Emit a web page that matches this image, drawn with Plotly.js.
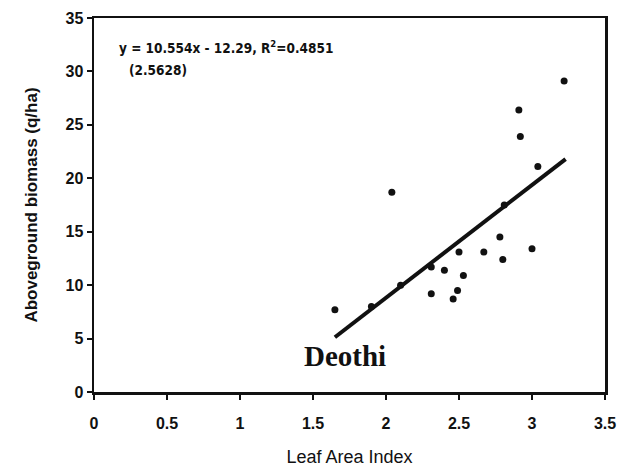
<!DOCTYPE html>
<html>
<head>
<meta charset="utf-8">
<script src="https://cdn.plot.ly/plotly-3.0.1.min.js"></script>
<style>html,body{margin:0;padding:0;background:#fff;}#chart{width:625px;height:468px;}</style>
</head>
<body>
<div id="chart"></div>
<script>
// Observed data: Leaf Area Index vs aboveground biomass (q/ha)
const lai = [3.22, 2.91, 2.92, 3.04, 2.04, 2.81, 2.78, 2.50, 2.67, 3.00,
             2.80, 2.31, 2.40, 2.53, 2.31, 2.49, 2.46, 1.65, 1.90, 2.10];
const biomass = [29.1, 26.4, 23.9, 21.1, 18.7, 17.5, 14.5, 13.1, 13.1, 13.4,
                 12.4, 11.7, 11.4, 10.9, 9.2, 9.5, 8.7, 7.7, 8.0, 10.0];
// Regression line y = 10.554x - 12.29
const slope = 10.554;
const intercept = -12.29;
const fitX = [1.65, 3.23];
const fitY = fitX.map(x => slope * x + intercept);
const xTicks = [0, 0.5, 1, 1.5, 2, 2.5, 3, 3.5];
const xTickText = ['0', '0.5', '1', '1.5', '2', '2.5', '3', '3.5'];
const yTicks = [0, 5, 10, 15, 20, 25, 30, 35];

const traces = [
  {x: lai, y: biomass, mode: 'markers', type: 'scatter',
   marker: {color: '#111', size: 7}, hoverinfo: 'none'},
  {x: fitX, y: fitY, mode: 'lines', type: 'scatter',
   line: {color: '#111', width: 4}, hoverinfo: 'none'}
];

const layout = {
  width: 625, height: 468,
  margin: {l: 94, r: 20, t: 18, b: 76},
  paper_bgcolor: '#fff', plot_bgcolor: '#fff',
  showlegend: false,
  font: {family: 'Liberation Sans, Arial, sans-serif', color: '#111'},
  xaxis: {
    range: [0, 3.5], tickvals: xTicks, ticktext: xTickText,
    showgrid: false, zeroline: false,
    showline: true, linecolor: '#111', linewidth: 2.5, mirror: true,
    ticks: 'outside', ticklen: 5, tickwidth: 2, tickcolor: '#111',
    ticklabelstandoff: 10,
    tickfont: {size: 16, weight: 'bold', color: '#111'},
    title: {text: 'Leaf Area Index', font: {size: 18, color: '#111'}, standoff: 20}
  },
  yaxis: {
    range: [0, 35], tickvals: yTicks,
    showgrid: false, zeroline: false,
    showline: true, linecolor: '#111', linewidth: 2.5, mirror: true,
    ticks: 'outside', ticklen: 5, tickwidth: 2, tickcolor: '#111',
    tickfont: {size: 16, weight: 'bold', color: '#111'},
    title: {text: 'Aboveground biomass (q/ha)', font: {size: 17, weight: 'bold', color: '#111'}, standoff: 24}
  },
  annotations: [
    {xref: 'paper', yref: 'paper', x: 0.045, y: 0.922, xanchor: 'left', yanchor: 'middle',
     text: 'y = 10.554x - 12.29, R<sup>2</sup>=0.4851', showarrow: false,
     font: {family: 'DejaVu Sans Condensed, DejaVu Sans, sans-serif', size: 13.5, weight: 'bold', color: '#111'}},
    {xref: 'paper', yref: 'paper', x: 0.065, y: 0.861, xanchor: 'left', yanchor: 'middle',
     text: '(2.5628)', showarrow: false,
     font: {family: 'DejaVu Sans Condensed, DejaVu Sans, sans-serif', size: 13.5, weight: 'bold', color: '#111'}},
    {xref: 'paper', yref: 'paper', x: 0.408, y: 0.095, xanchor: 'left', yanchor: 'middle',
     text: 'Deothi', showarrow: false,
     font: {family: 'Liberation Serif, Times New Roman, serif', size: 29, weight: 'bold', color: '#111'}}
  ]
};

Plotly.newPlot('chart', traces, layout, {displayModeBar: false, staticPlot: true});
</script>
</body>
</html>
